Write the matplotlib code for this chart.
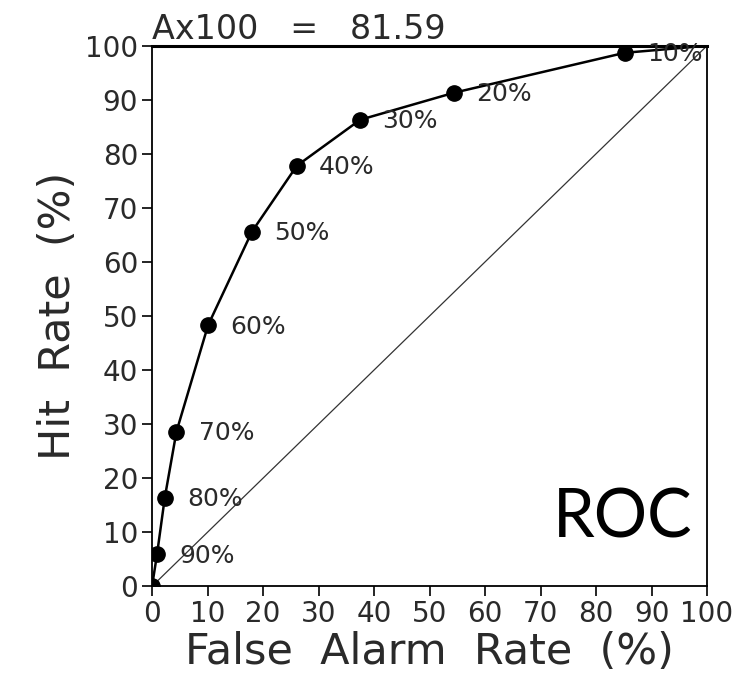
import matplotlib.pyplot as plt

# ROC points (false alarm rate, hit rate) in %
far = [0, 0.9, 2.3, 4.4, 10.1, 18.0, 26.1, 37.5, 54.4, 85.2, 100]
hit = [0, 5.9, 16.4, 28.6, 48.3, 65.6, 77.8, 86.3, 91.3, 98.7, 100]
point_labels = ["", "90%", "80%", "70%", "60%", "50%", "40%", "30%", "20%", "10%", ""]
score = 81.59

ticks = list(range(0, 101, 10))
txt = "#2a2a2a"

fig = plt.figure(figsize=(7.38, 6.93), dpi=100)
ax = fig.add_axes([0.206, 0.154, 0.752, 0.78])

# chance diagonal
ax.plot([0, 100], [0, 100], color="#333333", lw=0.9, zorder=1)

# ROC curve with markers (last point is the corner, no marker)
ax.plot(far, hit, color="black", lw=1.8, zorder=2)
ax.plot(far[:-1], hit[:-1], "o", color="black", ms=11, zorder=3)

for x, y, lab in zip(far, hit, point_labels):
    if lab:
        ax.annotate(lab, (x, y), xytext=(16, -1), textcoords="offset points",
                    ha="left", va="center", fontsize=18, color=txt)

ax.set_xlim(0, 100)
ax.set_ylim(0, 100)
ax.set_xticks(ticks)
ax.set_yticks(ticks)
ax.tick_params(axis="both", direction="out", length=7, width=1.2,
               labelsize=20, colors="black", labelcolor=txt, pad=3)

for s in ["left", "bottom", "right"]:
    ax.spines[s].set_linewidth(1.3)
ax.spines["top"].set_linewidth(2.2)

ax.set_xlabel("False  Alarm  Rate  (%)", fontsize=31, color=txt, labelpad=2)
ax.set_ylabel("Hit  Rate  (%)", fontsize=31, color=txt, labelpad=4)
ax.set_title("Ax100   =   %.2f" % score, loc="left", fontsize=24, color=txt, pad=5)

ax.text(0.973, 0.091, "ROC", transform=ax.transAxes, ha="right", va="baseline",
        fontsize=48, family="Lato", color="black")

fig.savefig("out.png", dpi=100)
